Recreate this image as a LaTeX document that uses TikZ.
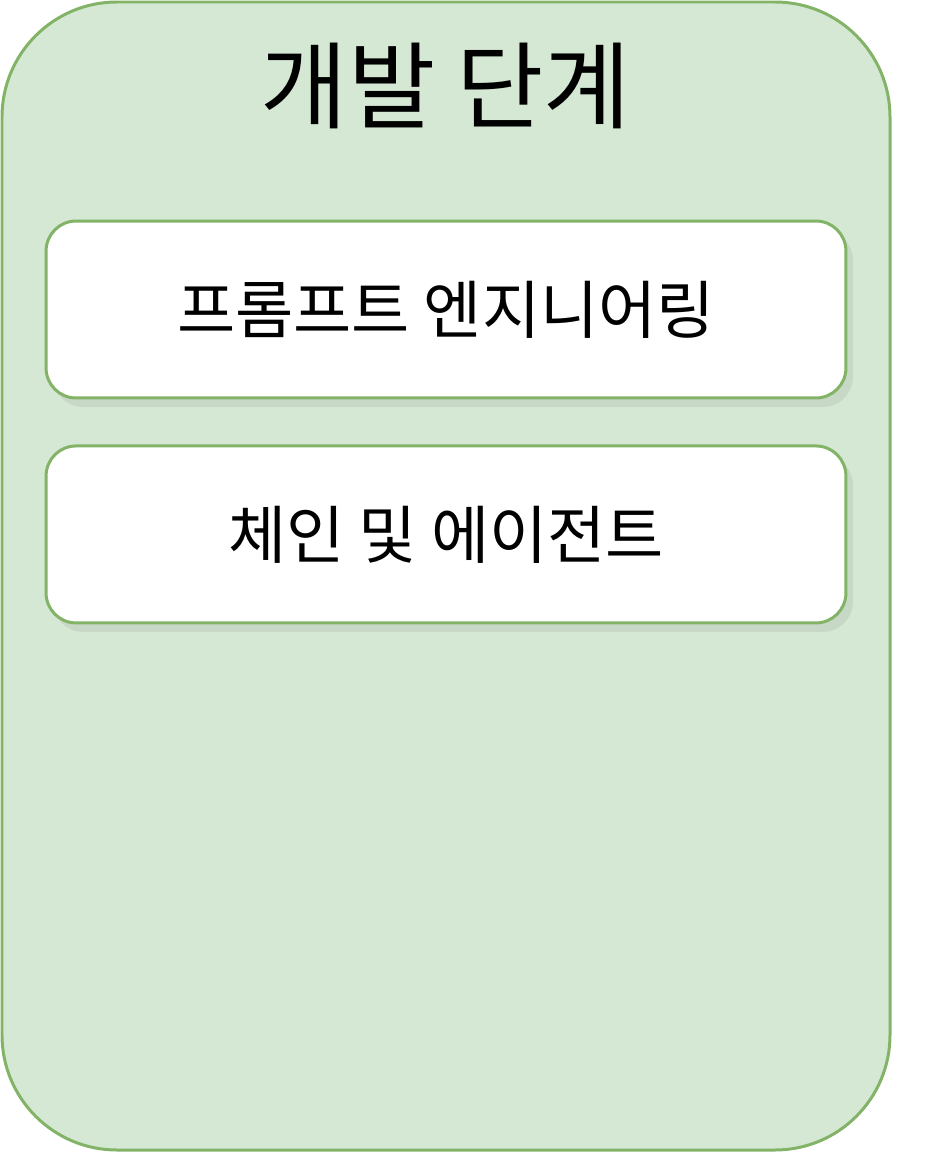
\documentclass[tikz,border=0pt]{standalone}
\usepackage{fontspec}
\setmainfont{Noto Sans CJK KR}
\usepackage{tikz}
\usetikzlibrary{positioning}
\usetikzlibrary{shadows}

\definecolor{stagefill}{HTML}{D5E8D4}
\definecolor{stageline}{HTML}{82B366}

\tikzset{
    stagebox/.style={draw=stageline, fill=white, line width=1.7pt, rounded corners=0.6cm,
        minimum width=16cm, minimum height=3.54cm, font=\fontsize{36}{42}\selectfont,
        drop shadow={opacity=0.15, shadow xshift=0.14cm, shadow yshift=-0.18cm}}
}

\begin{document}
\begin{tikzpicture}[x=0.02cm, y=-0.02cm]  % единица = пиксель
    \useasboundingbox (0,0) rectangle (928,1152);
    % Внешняя рамка этапа
    \draw[stageline, fill=stagefill, line width=1.7pt, rounded corners=2.3cm] (2,2) rectangle (890,1150);
    \node (title) at (446,86) {\fontsize{54}{62}\selectfont 개발 단계}; % Заголовок

    % Блоки
    \node[stagebox] (prompt) at (446,309.5) {프롬프트 엔지니어링};
    \node[stagebox, below=0.9cm of prompt] (chain) {체인 및 에이전트};
\end{tikzpicture}
\end{document}
